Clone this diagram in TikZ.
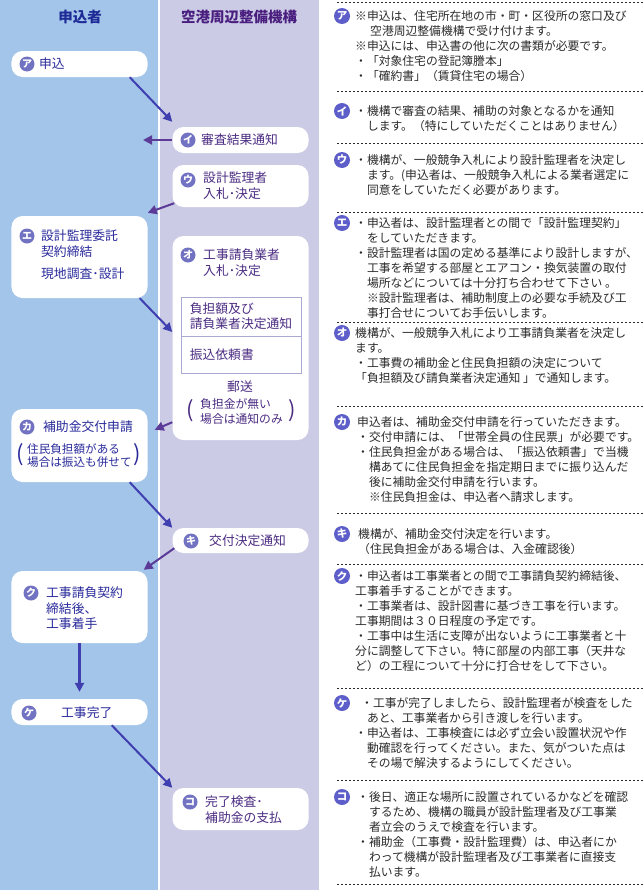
\documentclass[tikz,border=0pt]{standalone}
\usepackage{fontspec}
\setmainfont{Noto Sans CJK JP}
\usetikzlibrary{arrows.meta}
\definecolor{applyblue}{HTML}{A3C5EA}
\definecolor{agencyviolet}{HTML}{CBCBE6}
\definecolor{headblue}{HTML}{1E2A96}
\definecolor{headviolet}{HTML}{4A1E7E}
\definecolor{textblue}{HTML}{2A2A9C}
\definecolor{textviolet}{HTML}{4B2C82}
\definecolor{badge}{HTML}{7272C2}
\definecolor{notebadge}{HTML}{5E5ECA}
\definecolor{notegray}{HTML}{2B2B2B}
\definecolor{arrowblue}{HTML}{3F3FB0}
\definecolor{arrowviolet}{HTML}{5B3A98}
\definecolor{framegray}{HTML}{A9A9D2}
\newcommand{\indnt}{\hspace*{1em}}

\begin{document}
\begin{tikzpicture}[x=1bp, y=-1bp,
        box/.style={fill=white, rounded corners=11bp, minimum width=136bp, inner sep=0pt},
        kana/.style={circle, fill=badge, text=white, minimum size=15bp, inner sep=0pt, font=\fontsize{10bp}{10bp}\selectfont\bfseries},
        label/.style={anchor=north west, inner sep=0pt, align=left, font=\fontsize{12.8bp}{15.5bp}\selectfont},
        small/.style={anchor=north west, inner sep=0pt, align=left, font=\fontsize{11.6bp}{13.5bp}\selectfont},
        paren/.style={inner sep=0pt, font=\fontsize{22bp}{22bp}\selectfont},
        frame/.style={draw=framegray, line width=1bp, minimum width=120bp, text width=102.4bp, inner xsep=8.8bp, inner ysep=0pt, align=left, text=textviolet, font=\fontsize{12.8bp}{15bp}\selectfont},
        notekana/.style={circle, fill=notebadge, text=white, minimum size=16bp, inner sep=0pt, font=\fontsize{10.5bp}{10.5bp}\selectfont\bfseries},
        note/.style={anchor=north west, inner sep=0pt, align=left, text=notegray, font=\fontsize{11.8bp}{15bp}\selectfont},
        sep/.style={notegray, line width=1bp, dash pattern=on 2bp off 2bp},
        arr/.style={line width=2bp, -{Triangle[length=9bp,width=9bp]}}]
        \useasboundingbox (0,0) rectangle (644,890);
        \fill[white] (0,0) rectangle (644,890);
        \fill[applyblue] (0,0) rectangle (157.5,890);
        \fill[agencyviolet] (160,0) rectangle (319,890);

        \node[text=headblue, font=\fontsize{14.5bp}{14.5bp}\selectfont\bfseries] (headapply) at (80,17) {申込者};
        \node[text=headviolet, font=\fontsize{14.5bp}{14.5bp}\selectfont\bfseries] (headagency) at (239,17) {空港周辺整備機構};

        \node[box, minimum height=26bp] (apply) at (79.5,64) {};
        \node[kana] (applyk) at (27,64) {ア};
        \node[label, text=textblue] (applyt) at (39,58) {申込};

        \node[box, minimum height=26bp] (notice) at (240.5,140) {};
        \node[kana] (noticek) at (188,140) {イ};
        \node[label, text=textviolet] (noticet) at (201,134) {審査結果通知};

        \node[box, minimum height=42bp] (design) at (240.5,186) {};
        \node[kana] (designk) at (188,180) {ウ};
        \node[label, text=textviolet] (designt) at (203,172) {設計監理者\\入札･決定};

        \node[box, minimum height=82bp] (contract) at (79.5,257) {};
        \node[kana] (contractk) at (27,236) {エ};
        \node[label, text=textblue] (contractt) at (41,230) {設計監理委託\\契約締結\\[7bp]現地調査･設計};

        \node[box, minimum height=204bp] (bid) at (240.5,338) {};
        \node[kana] (bidk) at (188,255) {オ};
        \node[label, text=textviolet] (bidt) at (203,249) {工事請負業者\\入札･決定};
        \node[frame, minimum height=39bp] (billnotice) at (241,316.5) {負担額及び\\請負業者決定通知};
        \node[frame, minimum height=37bp] (transfer) at (241,354.5) {振込依頼書};
        \node[text=textviolet, font=\fontsize{12.8bp}{15bp}\selectfont] (mail) at (240,387) {郵送};
        \node[small, text=textviolet, font=\fontsize{11.8bp}{15bp}\selectfont] (mailt) at (200,398) {負担金が無い\\場合は通知のみ};
        \node[paren, text=textviolet] (maill) at (190,411) {(};
        \node[paren, text=textviolet] (mailr) at (292,411) {)};

        \node[box, minimum height=73bp] (grantapp) at (79.5,445.5) {};
        \node[kana] (grantappk) at (27,427) {カ};
        \node[label, text=textblue] (grantappt) at (43,421) {補助金交付申請};
        \node[small, text=textblue] (grantapps) at (27,443) {住民負担額がある\\場合は振込も併せて};
        \node[paren, text=textblue] (grantappl) at (20,455) {(};
        \node[paren, text=textblue] (grantappr) at (137,455) {)};

        \node[box, minimum height=25bp] (grantdec) at (240.5,540.5) {};
        \node[kana] (grantdeck) at (191,541) {キ};
        \node[label, text=textviolet] (grantdect) at (209,535) {交付決定通知};

        \node[box, minimum height=72bp] (work) at (79.5,607) {};
        \node[kana] (workk) at (31,593) {ク};
        \node[label, text=textblue] (workt) at (46,587) {工事請負契約\\締結後、\\工事着手};

        \node[box, minimum height=26bp] (done) at (79.5,712) {};
        \node[kana] (donek) at (29,713) {ケ};
        \node[label, text=textblue] (donet) at (61,707) {工事完了};

        \node[box, minimum height=42bp] (payment) at (240.5,809) {};
        \node[kana] (paymentk) at (190,802) {コ};
        \node[label, text=textviolet] (paymentt) at (205,796) {完了検査･\\補助金の支払};

        \coordinate (noticeend) at (143,140);
        \draw[arr, arrowblue] ([xshift=-18bp]apply.south east) -- ([yshift=5bp]notice.north west);
        \draw[arr, arrowviolet] (notice.west) -- (noticeend);
        \draw[arr, arrowviolet] ([xshift=2bp,yshift=4bp]design.south west) -- ([yshift=3bp]contract.north east);
        \draw[arr, arrowblue] ([xshift=-8bp]contract.south east) -- ([yshift=6bp]bid.west);
        \draw[arr, arrowviolet] ([yshift=18bp]bid.south west) -- ([xshift=7bp,yshift=-21bp]grantapp.north east);
        \draw[arr, arrowblue] ([xshift=-18bp]grantapp.south east) -- (grantdec.north west);
        \draw[arr, arrowviolet] ([xshift=2bp,yshift=5bp]grantdec.south west) -- ([xshift=-4bp,yshift=1bp]work.north east);
        \draw[arr, arrowblue, line width=3bp] (work.south) -- ([yshift=7bp]done.north);
        \draw[arr, arrowblue] ([xshift=-36bp]done.south east) -- (payment.north west);

        \draw[sep] (337,2) -- (644,2);
        \draw[sep] (337,91) -- (644,91);
        \draw[sep] (337,143) -- (644,143);
        \draw[sep] (337,212) -- (644,212);
        \draw[sep] (337,322) -- (644,322);
        \draw[sep] (337,406) -- (644,406);
        \draw[sep] (337,513) -- (644,513);
        \draw[sep] (337,564) -- (644,564);
        \draw[sep] (337,688) -- (644,688);
        \draw[sep] (337,780) -- (644,780);
        \draw[sep] (337,884) -- (644,884);

        \node[notekana] (notea) at (342,16) {ア};
        \node[note] (noteat) at (355,10) {※申込は、住宅所在地の市・町・区役所の窓口及び\\
        \hspace*{15bp}空港周辺整備機構で受け付けます。\\
        ※申込には、申込書の他に次の書類が必要です。\\
        ・「対象住宅の登記簿謄本」\\
        ・「確約書」（賃貸住宅の場合）};

        \node[notekana] (noteb) at (342,111) {イ};
        \node[note] (notebt) at (355,105) {・機構で審査の結果、補助の対象となるかを通知\\
        \indnt します。（特にしていただくことはありません）};

        \node[notekana] (notec) at (342,160) {ウ};
        \node[note] (notect) at (355,154) {・機構が、一般競争入札により設計監理者を決定し\\
        \indnt ます。(申込者は、一般競争入札による業者選定に\\
        \indnt 同意をしていただく必要があります。};

        \node[notekana] (noted) at (342,223) {エ};
        \node[note] (notedt) at (355,217) {・申込者は、設計監理者との間で「設計監理契約」\\
        \indnt をしていただきます。\\
        ・設計監理者は国の定める基準により設計しますが、\\
        \indnt 工事を希望する部屋とエアコン・換気装置の取付\\
        \indnt 場所などについては十分打ち合わせて下さい 。\\
        \indnt ※設計監理者は、補助制度上の必要な手続及び工\\
        \indnt 事打合せについてお手伝いします。};

        \node[notekana] (notee) at (342,333) {オ};
        \node[note] (noteet) at (355,327) {機構が、一般競争入札により工事請負業者を決定し\\
        ます。\\
        ・工事費の補助金と住民負担額の決定について\\
        「負担額及び請負業者決定通知 」で通知します。};

        \node[notekana] (notef) at (342,422) {カ};
        \node[note] (noteft) at (357,416) {申込者は、補助金交付申請を行っていただきます。\\
        ・交付申請には、「世帯全員の住民票」が必要です。\\
        ・住民負担金がある場合は、「振込依頼書」で当機\\
        \indnt 構あてに住民負担金を指定期日までに振り込んだ\\
        \indnt 後に補助金交付申請を行います。\\
        \indnt ※住民負担金は、申込者へ請求します。};

        \node[notekana] (noteg) at (342,534) {キ};
        \node[note] (notegt) at (358,528) {機構が、補助金交付決定を行います。\\
        （住民負担金がある場合は、入金確認後）};

        \node[notekana] (noteh) at (342,576) {ク};
        \node[note] (noteht) at (355,570) {・申込者は工事業者との間で工事請負契約締結後、\\
        工事着手することができます。\\
        ・工事業者は、設計図書に基づき工事を行います。\\
        工事期間は３０日程度の予定です。\\
        ・工事中は生活に支障が出ないように工事業者と十\\
        分に調整して下さい。特に部屋の内部工事（天井な\\
        ど）の工程について十分に打合せをして下さい。};

        \node[notekana] (notei) at (342,703) {ケ};
        \node[note] (noteit) at (355,697) {\hspace*{6bp}・工事が完了しましたら、設計監理者が検査をした\\
        \indnt あと、工事業者から引き渡しを行います。\\
        ・申込者は、工事検査には必ず立会い設置状況や作\\
        \indnt 動確認を行ってください。また、気がついた点は\\
        \indnt その場で解決するようにしてください。};

        \node[notekana] (notej) at (342,797) {コ};
        \node[note] (notejt) at (357,791) {・後日、適正な場所に設置されているかなどを確認\\
        \indnt するため、機構の職員が設計監理者及び工事業\\
        \indnt 者立会のうえで検査を行います。\\
        ・補助金（工事費・設計監理費）は、申込者にか\\
        \indnt わって機構が設計監理者及び工事業者に直接支\\
        \indnt 払います。};
\end{tikzpicture}
\end{document}
